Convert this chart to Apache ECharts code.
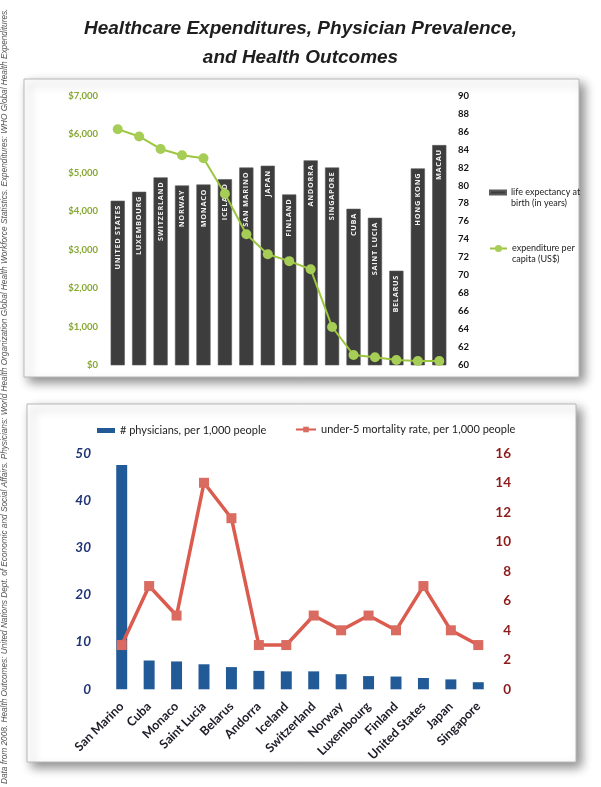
<!DOCTYPE html>
<html>
<head>
<meta charset="utf-8">
<script src="https://cdn.jsdelivr.net/npm/echarts@6/dist/echarts.min.js"></script>
<style>
html,body{margin:0;padding:0;background:#fff;}
#chart{width:601px;height:787px;}
</style>
</head>
<body>
<div id="chart"></div>
<script>
// ---- Top chart data ----
const topCountries = ['United States','Luxembourg','Switzerland','Norway','Monaco','Iceland','San Marino','Japan','Finland','Andorra','Singapore','Cuba','Saint Lucia','Belarus','Hong Kong','Macau'];
const lifeExpectancy = [78.3, 79.3, 80.9, 80.0, 80.1, 80.7, 82.0, 82.2, 79.0, 82.8, 82.0, 77.4, 76.4, 70.5, 81.9, 84.5];
const expenditure = [6130, 5940, 5615, 5450, 5375, 4450, 3400, 2880, 2700, 2490, 990, 260, 200, 130, 105, 105];
// ---- Bottom chart data ----
const bottomCountries = ['San Marino','Cuba','Monaco','Saint Lucia','Belarus','Andorra','Iceland','Switzerland','Norway','Luxembourg','Finland','United States','Japan','Singapore'];
const physicians = [47.5, 6.1, 5.9, 5.3, 4.7, 3.9, 3.8, 3.8, 3.2, 2.8, 2.7, 2.4, 2.1, 1.5];
const mortality = [3, 7, 5, 14, 11.6, 3, 3, 5, 4, 5, 4, 7, 4, 3];

const titleLine1 = 'Healthcare Expenditures, Physician Prevalence,';
const titleLine2 = 'and Health Outcomes';
const sourceText = 'Data from 2008. Health Outcomes: United Nations Dept. of Economic and Social Affairs. Physicians: World Health Organization Global Health Workforce Statistics. Expenditures: WHO Global Health Expenditures.';

const chart = echarts.init(document.getElementById('chart'), null, {renderer: 'canvas'});

function dollar(v) {
  return '$' + String(v).replace(/\B(?=(\d{3})+(?!\d))/g, ',');
}
function spaced(s) {
  return s.toUpperCase().split('').join('\u200A');
}

const titleStyle = {
  fontFamily: 'Liberation Sans',
  fontSize: 19,
  fontWeight: 'bold',
  fontStyle: 'italic',
  color: '#1e1e1e',
  lineHeight: 19
};

const option = {
  backgroundColor: '#ffffff',
  animation: false,
  title: [
    {text: titleLine1, left: 'center', top: 19, padding: 0, textStyle: titleStyle},
    {text: titleLine2, left: 'center', top: 48.5, padding: 0, textStyle: titleStyle}
  ],
  graphic: [
    {
      type: 'rect', z: -10, silent: true,
      shape: {x: 24, y: 79, width: 555, height: 298},
      style: {fill: '#ffffff', stroke: '#b8b8b8', lineWidth: 1,
        shadowBlur: 10, shadowOffsetX: 5, shadowOffsetY: 5, shadowColor: 'rgba(0,0,0,0.45)'}
    },
    {
      type: 'rect', z: -10, silent: true,
      shape: {x: 27, y: 404, width: 549, height: 358},
      style: {fill: '#ffffff', stroke: '#b8b8b8', lineWidth: 1,
        shadowBlur: 10, shadowOffsetX: 5, shadowOffsetY: 5, shadowColor: 'rgba(0,0,0,0.45)'}
    },
    {
      type: 'text', silent: true,
      x: 5, y: 784, rotation: Math.PI / 2,
      style: {
        text: sourceText,
        fontFamily: 'Liberation Sans',
        fontSize: 8.25,
        fontStyle: 'italic',
        fill: '#555555',
        textAlign: 'left',
        textVerticalAlign: 'middle'
      }
    }
  ],
  legend: [
    {
      data: ['life expectancy at birth (in years)'],
      orient: 'vertical',
      left: 484, top: 171,
      itemWidth: 16, itemHeight: 4,
      icon: 'rect',
      formatter: function () { return '\nlife expectancy at\nbirth (in years)'; },
      textStyle: {fontFamily: 'Lato', fontSize: 9, color: '#222', lineHeight: 11}
    },
    {
      data: ['expenditure per capita (US$)'],
      orient: 'vertical',
      left: 484, top: 227,
      itemWidth: 17, itemHeight: 9,
      formatter: function () { return '\nexpenditure per\ncapita (US$)'; },
      textStyle: {fontFamily: 'Lato', fontSize: 9, color: '#222', lineHeight: 11}
    },
    {
      data: ['# physicians, per 1,000 people'],
      left: 92, top: 420,
      itemWidth: 18, itemHeight: 5,
      icon: 'rect',
      textStyle: {fontFamily: 'Lato', fontSize: 11, color: '#222'}
    },
    {
      data: ['under-5 mortality rate, per 1,000 people'],
      left: 290, top: 419,
      itemWidth: 20, itemHeight: 7,
      textStyle: {fontFamily: 'Lato', fontSize: 11, color: '#222'}
    }
  ],
  grid: [
    {left: 107, right: 151, top: 95.7, bottom: 422, containLabel: false},
    {left: 108, right: 109, top: 453.3, bottom: 97.7, containLabel: false}
  ],
  xAxis: [
    {
      type: 'category', gridIndex: 0, data: topCountries,
      axisLine: {show: false}, axisTick: {show: false}, axisLabel: {show: false},
      splitLine: {show: false}
    },
    {
      type: 'category', gridIndex: 1, data: bottomCountries,
      axisLine: {show: false}, axisTick: {show: false}, splitLine: {show: false},
      axisLabel: {
        interval: 0, rotate: 45, margin: 15,
        fontFamily: 'Lato', fontSize: 12.5, fontWeight: 'bold', color: '#1d1d28'
      }
    }
  ],
  yAxis: [
    {
      type: 'value', gridIndex: 0, min: 0, max: 7000, interval: 1000, position: 'left',
      axisLine: {show: false}, axisTick: {show: false}, splitLine: {show: false},
      axisLabel: {
        formatter: dollar, margin: 9,
        fontFamily: 'Lato', fontSize: 9.5, fontWeight: 'bold', color: '#86a832'
      }
    },
    {
      type: 'value', gridIndex: 0, min: 60, max: 90, interval: 2, position: 'right',
      axisLine: {show: false}, axisTick: {show: false}, splitLine: {show: false},
      axisLabel: {
        margin: 8,
        fontFamily: 'Lato', fontSize: 9.5, fontWeight: 'bold', color: '#111'
      }
    },
    {
      type: 'value', gridIndex: 1, min: 0, max: 50, interval: 10, position: 'left',
      axisLine: {show: false}, axisTick: {show: false}, splitLine: {show: false},
      axisLabel: {
        margin: 17,
        fontFamily: 'Lato', fontSize: 13.5, fontWeight: 'bold', fontStyle: 'italic', color: '#1f3576'
      }
    },
    {
      type: 'value', gridIndex: 1, min: 0, max: 16, interval: 2, position: 'right',
      axisLine: {show: false}, axisTick: {show: false}, splitLine: {show: false},
      axisLabel: {
        margin: 19, align: 'right',
        fontFamily: 'Lato', fontSize: 13.5, fontWeight: 'bold', color: '#8e1b1b'
      }
    }
  ],
  series: [
    {
      name: 'life expectancy at birth (in years)',
      type: 'bar', xAxisIndex: 0, yAxisIndex: 1,
      data: lifeExpectancy,
      barCategoryGap: '34%',
      itemStyle: {color: '#3d3d3d', borderColor: '#5a5a5a', borderWidth: 0.6},
      label: {
        show: true, position: 'insideTop', rotate: 90, distance: 5,
        align: 'right', verticalAlign: 'middle',
        formatter: function (p) { return spaced(topCountries[p.dataIndex]); },
        fontFamily: 'Open Sans', fontSize: 7.3, fontWeight: 'bold', color: '#f2f2f2'
      }
    },
    {
      name: 'expenditure per capita (US$)',
      type: 'line', xAxisIndex: 0, yAxisIndex: 0,
      data: expenditure,
      symbol: 'circle', symbolSize: 10,
      lineStyle: {color: '#9cc540', width: 2},
      itemStyle: {color: '#a6cd55'},
      z: 5
    },
    {
      name: '# physicians, per 1,000 people',
      type: 'bar', xAxisIndex: 1, yAxisIndex: 2,
      data: physicians,
      barCategoryGap: '60%',
      itemStyle: {color: '#215a96'}
    },
    {
      name: 'under-5 mortality rate, per 1,000 people',
      type: 'line', xAxisIndex: 1, yAxisIndex: 3,
      data: mortality,
      symbol: 'rect', symbolSize: 10,
      lineStyle: {color: '#db5b4f', width: 3.5},
      itemStyle: {color: '#d96b60'},
      z: 5
    }
  ]
};
chart.setOption(option);
</script>
</body>
</html>
